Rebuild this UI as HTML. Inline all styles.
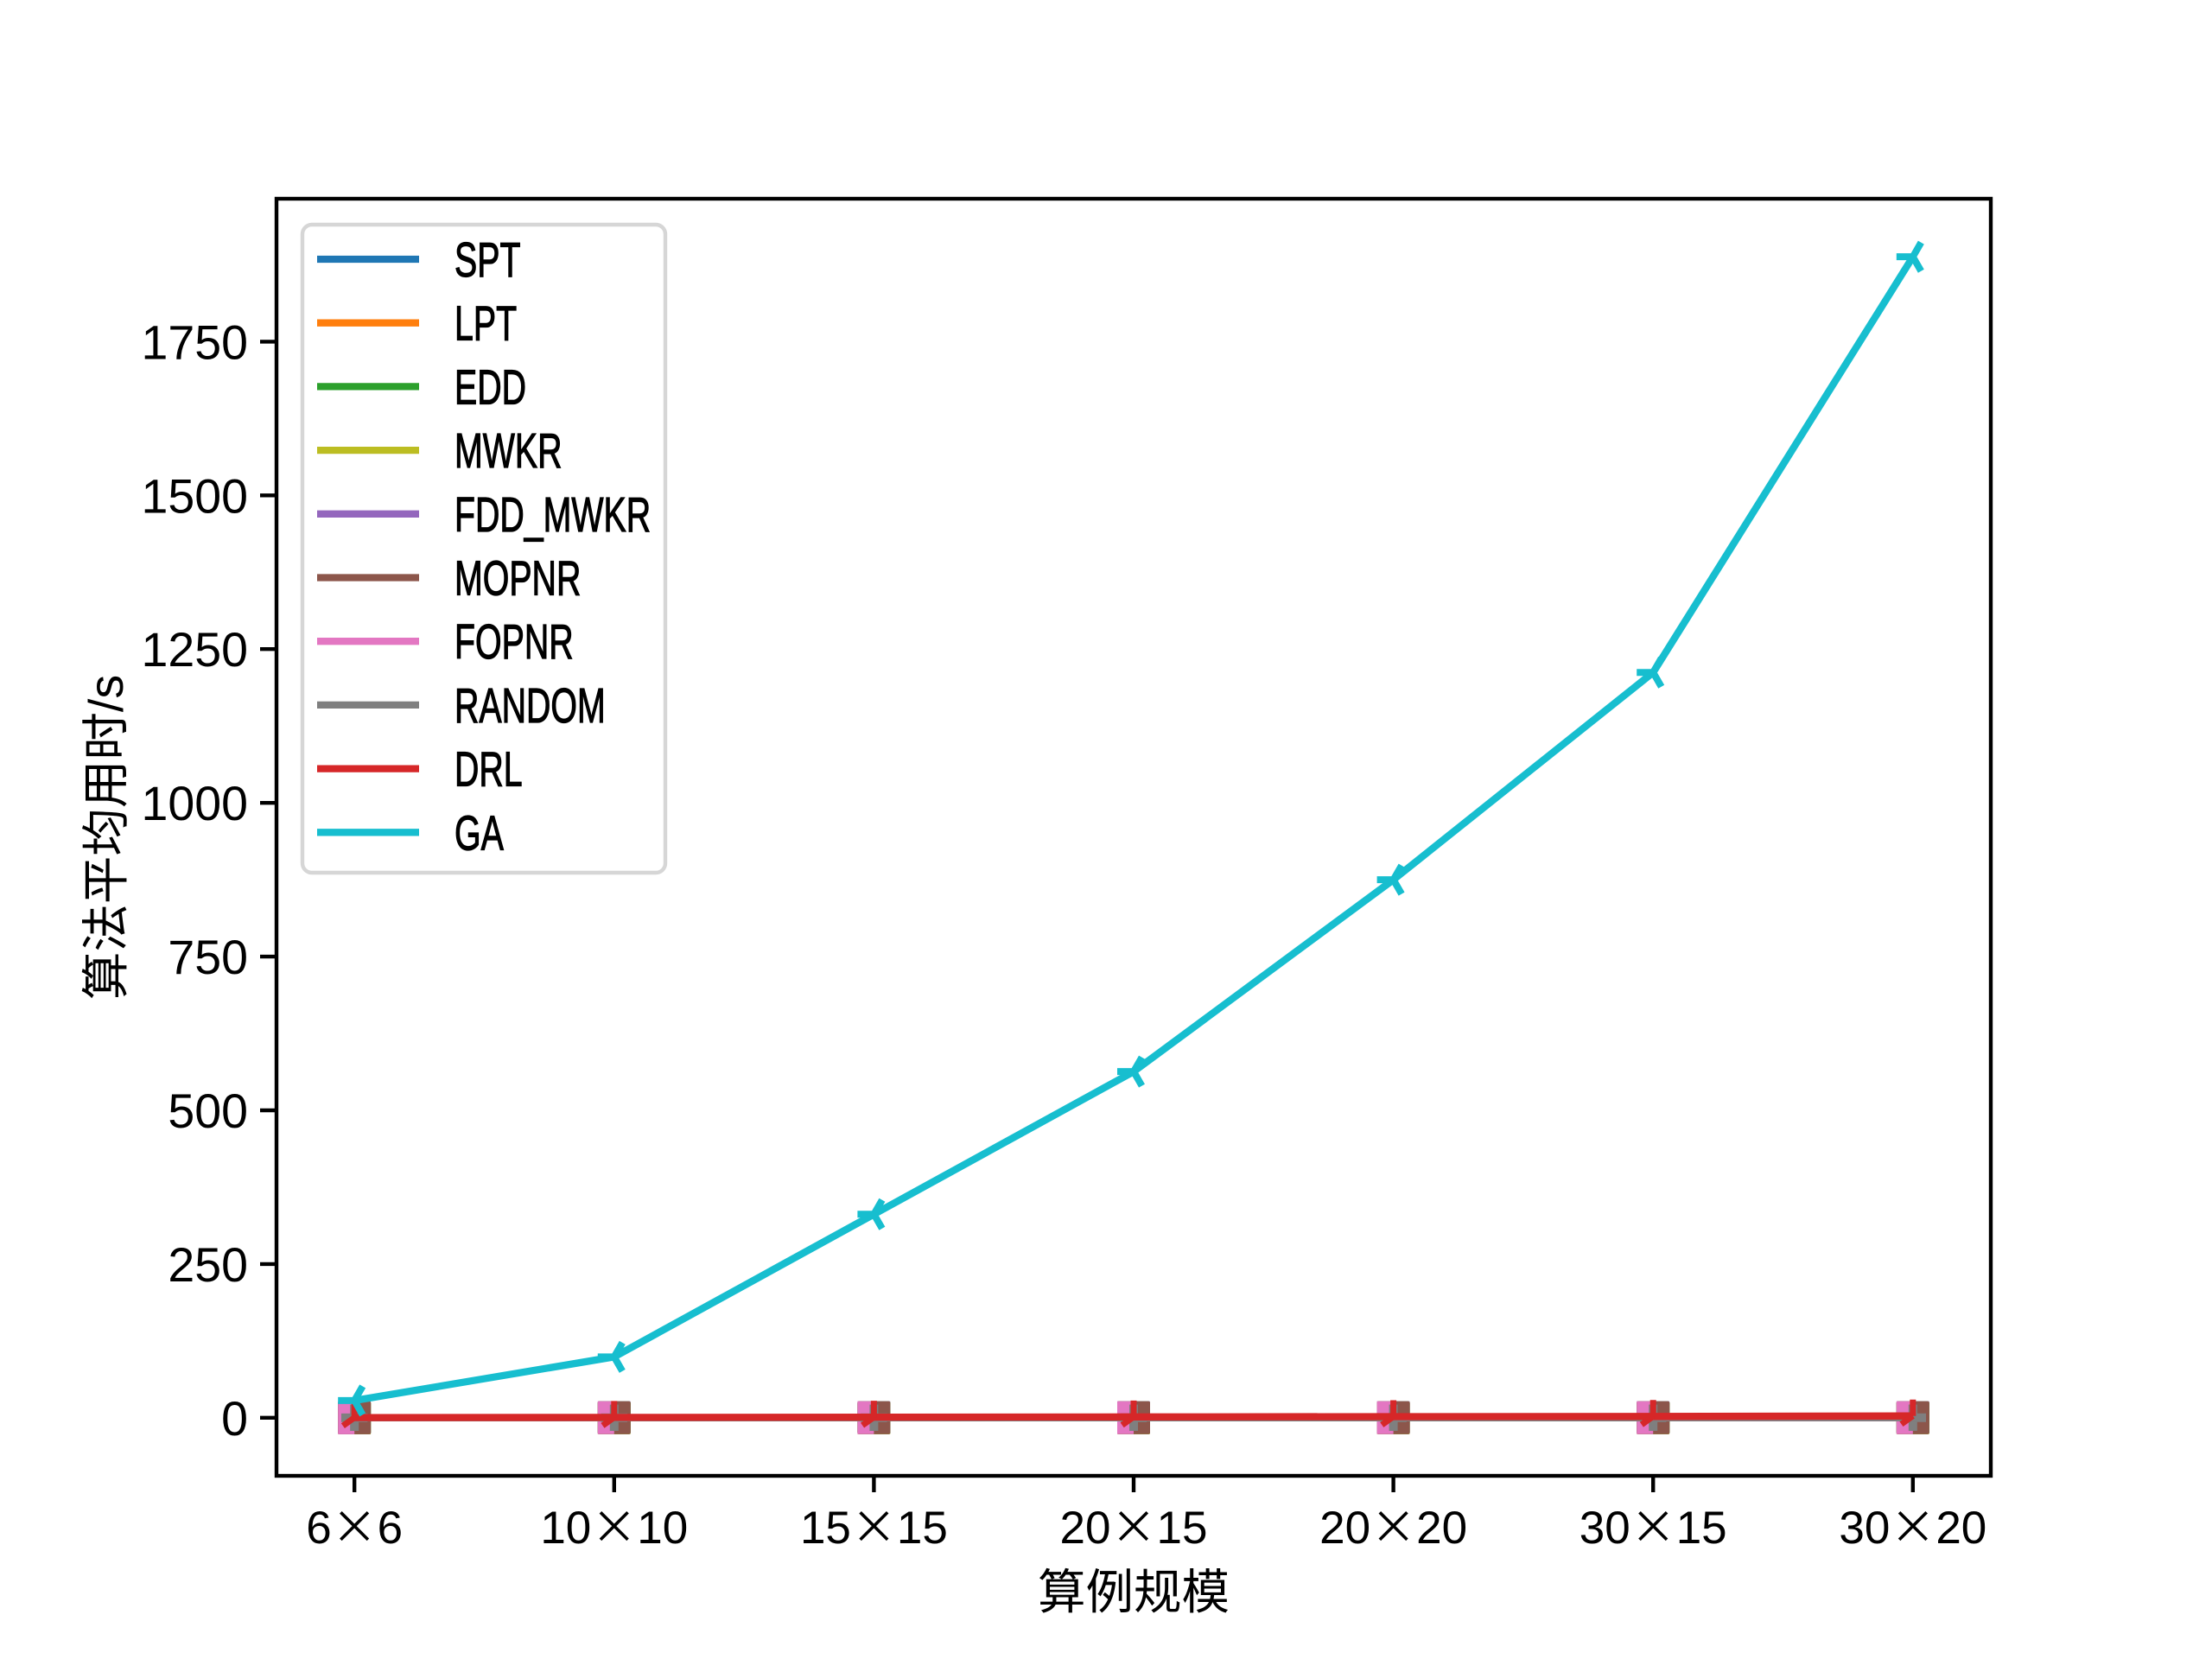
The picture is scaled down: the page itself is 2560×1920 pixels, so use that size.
<!DOCTYPE html>
<html><head><meta charset="utf-8"><style>
html,body{margin:0;padding:0;background:#fff}
svg{display:block}
text{font-family:"Liberation Sans","WenQuanYi Zen Hei",sans-serif}
</style></head><body>
<svg id="chart" width="2560" height="1920" viewBox="0 0 2560 1920"></svg>
<script>
const categories = ["6×6","10×10","15×15","20×15","20×20","30×15","30×20"];
const seriesNames = ["SPT","LPT","EDD","MWKR","FDD_MWKR","MOPNR","FOPNR","RANDOM","DRL","GA"];
const seriesColors = ["#1f77b4","#ff7f0e","#2ca02c","#bcbd22","#9467bd","#8c564b","#e377c2","#7f7f7f","#d62728","#17becf"];
const valSPT = [0.01,0.02,0.04,0.06,0.08,0.1,0.13];
const valLPT = [0.01,0.02,0.04,0.06,0.08,0.1,0.13];
const valEDD = [0.01,0.02,0.04,0.06,0.08,0.1,0.13];
const valMWKR = [0.01,0.02,0.04,0.06,0.08,0.1,0.13];
const valFDD = [0.01,0.02,0.04,0.06,0.08,0.1,0.13];
const valMOPNR = [0.01,0.02,0.04,0.06,0.08,0.1,0.13];
const valFOPNR = [0.01,0.02,0.04,0.06,0.08,0.1,0.13];
const valRANDOM = [0.01,0.02,0.04,0.06,0.08,0.1,0.13];
const valDRL = [0.3,0.6,1.0,1.4,1.8,2.2,3.0];
const valGA = [28,99,331,563,875,1212,1888];
const yTicks = [0,250,500,750,1000,1250,1500,1750];
const markers = ["s","s","s","^","v","s",">","P","x","3"];

const allVals=[valSPT,valLPT,valEDD,valMWKR,valFDD,valMOPNR,valFOPNR,valRANDOM,valDRL,valGA];
const NS="http://www.w3.org/2000/svg";
const svg=document.getElementById('chart');
const L=320,R=2304,T=230,B=1708;
let mn=Infinity,mx=-Infinity;allVals.forEach(a=>a.forEach(v=>{mn=Math.min(mn,v);mx=Math.max(mx,v);}));
const yLo=mn-0.05*(mx-mn), yHi=mx+0.05*(mx-mn);
const xs=i=>L+(R-L)*(i+0.3)/(categories.length-1+0.6);
const ys=v=>B-(B-T)*(v-yLo)/(yHi-yLo);
function el(tag,attrs,parent){const e=document.createElementNS(NS,tag);for(const k in attrs)e.setAttribute(k,attrs[k]);(parent||svg).appendChild(e);return e;}

// y ticks
yTicks.forEach(v=>{
  const g=el('g',{});
  
  
  el('line',{x1:L-19,x2:L,y1:ys(v),y2:ys(v),stroke:'#000','stroke-width':4.4},g);
  const t=el('text',{x:L-33,y:ys(v)+20,'text-anchor':'end','font-size':55.5,fill:'#000'},g);t.textContent=v;
});
// x ticks
categories.forEach((c,i)=>{
  const g=el('g',{});
  
  
  el('line',{x1:xs(i),x2:xs(i),y1:B,y2:B+19,stroke:'#000','stroke-width':4.4},g);
  const t=el('text',{x:xs(i),y:B+78,'text-anchor':'middle','font-size':53,fill:'#000'},g);
  const parts=c.split('×');
  const a=el('tspan',{},t);a.textContent=parts[0];
  const m=el('tspan',{'font-family':'"Noto Sans CJK SC",sans-serif'},t);m.textContent='×';
  const b=el('tspan',{},t);b.textContent=parts[1];
});

function marker(m,x,y,color,g){
  const s=19;
  if(m==='s') el('rect',{x:x-s,y:y-s,width:2*s,height:2*s,rx:2,fill:color},g);
  else if(m==='^') el('polygon',{points:`${x},${y-s} ${x+s},${y+s} ${x-s},${y+s}`,fill:color},g);
  else if(m==='v') el('polygon',{points:`${x-s},${y-s} ${x+s},${y-s} ${x},${y+s}`,fill:color},g);
  else if(m==='>') el('polygon',{points:`${x-s},${y-s} ${x},${y-s} ${x},${y+s} ${x-s},${y+s}`,fill:color},g);
  else if(m==='P'){el('rect',{x:x-5,y:y-s*0.8,width:10,height:1.6*s,fill:color},g);el('rect',{x:x-s*0.8,y:y-5,width:1.6*s,height:10,fill:color},g);}
  else if(m==='x'){el('path',{d:`M${x} ${y-s}L${x} ${y}M${x-s*0.7} ${y+s*0.5}L${x} ${y}`,stroke:color,'stroke-width':7},g);}
  else if(m==='3'){el('path',{d:`M${x} ${y}L${x-s} ${y}M${x} ${y}L${x+s*0.5} ${y-s*0.87}M${x} ${y}L${x+s*0.5} ${y+s*0.87}`,stroke:color,'stroke-width':8},g);}
}

// series
allVals.forEach((vals,k)=>{
  const g=el('g',{});
  
  
  const d=vals.map((v,i)=>(i?'L':'M')+xs(i).toFixed(1)+' '+ys(v).toFixed(1)).join('');
  el('path',{d:d,fill:'none',stroke:seriesColors[k],'stroke-width':8.3,'stroke-linejoin':'round'},g);
  vals.forEach((v,i)=>marker(markers[k],xs(i),ys(v),seriesColors[k],g));
});

// frame
const fr=el('rect',{x:L,y:T,width:R-L,height:B-T,fill:'none',stroke:'#000','stroke-width':4.4});



// legend
const lg=el('g',{});


el('rect',{x:350,y:260,width:420,height:750,rx:11,fill:'#fff','fill-opacity':0.8,stroke:'#d6d6d6','stroke-width':4.4},lg);
seriesNames.forEach((n,k)=>{
  const g=el('g',{},lg);
  
  
  const y=300+k*73.7;
  el('line',{x1:367,x2:485,y1:y,y2:y,stroke:seriesColors[k],'stroke-width':8.3},g);
  const t=el('text',{x:0,y:0,'font-size':57,fill:'#000',stroke:'#000','stroke-width':1.2,transform:`translate(526,${y+20}) scale(0.69,1)`},g);t.textContent=n;
});

// axis titles
const xt=el('text',{x:1312,y:1862,'text-anchor':'middle','font-size':55.5,fill:'#000'});
xt.textContent='算例规模';


const yt=el('text',{x:0,y:0,'text-anchor':'middle','font-size':55.5,fill:'#000',transform:'translate(142,969) rotate(-90)'});
yt.textContent='算法平均用时/s';


</script>
</body></html>
